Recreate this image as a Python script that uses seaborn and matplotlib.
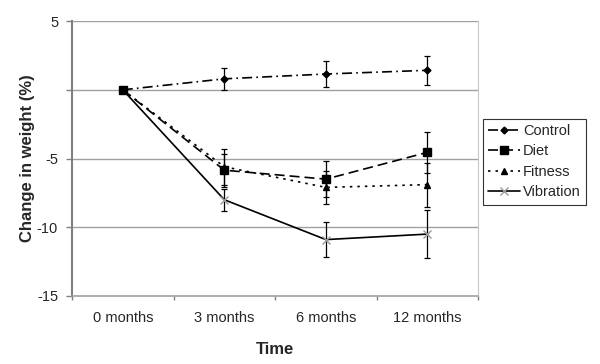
import matplotlib.pyplot as plt
import pandas as pd
import seaborn as sns

# weight change (%) per group
times = ["0 months", "3 months", "6 months", "12 months"]
control = [0.0, 0.8, 1.15, 1.42]
control_err = [0.0, 0.8, 0.93, 1.05]
diet = [0.0, -5.85, -6.5, -4.55]
diet_err = [0.0, 1.2, 1.3, 1.5]
fitness = [0.0, -5.6, -7.1, -6.9]
fitness_err = [0.0, 1.3, 1.2, 1.6]
vibration = [0.0, -8.0, -10.9, -10.5]
vibration_err = [0.0, 0.8, 1.3, 1.75]

STYLES = {
    "Control": dict(dashes=(6, 2.5, 1, 2.5), marker="D", markersize=3.5, mfc="black", mec="black", z=3),
    "Diet": dict(dashes=(6, 3), marker="s", markersize=5.5, mfc="black", mec="black", z=6),
    "Fitness": dict(dashes=(1.5, 3), marker="^", markersize=5, mfc="black", mec="black", z=4),
    "Vibration": dict(dashes=(), marker="x", markersize=6, mfc="#999999", mec="#999999", z=3.5),
}


def build_frame() -> pd.DataFrame:
    series = {
        "Control": (control, control_err),
        "Diet": (diet, diet_err),
        "Fitness": (fitness, fitness_err),
        "Vibration": (vibration, vibration_err),
    }
    rows = []
    for group, (vals, errs) in series.items():
        for i, (v, e) in enumerate(zip(vals, errs)):
            rows.append({"group": group, "pos": i, "time": times[i], "change": v, "err": e})
    return pd.DataFrame(rows)


def main() -> None:
    sns.set_theme(style="white")
    plt.rcParams["font.family"] = ["Liberation Sans", "DejaVu Sans"]

    df = build_frame()
    fig = plt.figure(figsize=(6, 3.64), dpi=100)
    ax = fig.add_axes([0.12, 0.187, 0.677, 0.755])

    for y in [-10, -5, 0, 5]:
        ax.axhline(y, color="#a0a0a0", lw=1.0, zorder=0)

    for group, rows in df.groupby("group", sort=False):
        st = STYLES[group]
        ax.errorbar(rows["pos"], rows["change"], yerr=rows["err"], fmt="none",
                    ecolor="black", elinewidth=0.9, capsize=2.5, capthick=0.9, zorder=2)
        sns.lineplot(
            data=rows, x="pos", y="change", ax=ax, color="black", lw=1.2,
            dashes=st["dashes"] if st["dashes"] else None,
            marker=st["marker"], markersize=st["markersize"],
            markerfacecolor=st["mfc"], markeredgecolor=st["mec"], markeredgewidth=1,
            label=group, zorder=st["z"],
        )
        if not st["dashes"]:
            ax.lines[-1].set_linestyle("-")

    ax.set_xlim(-0.5, 3.5)
    ax.set_ylim(-15, 5)
    ax.set_yticks([-15, -10, -5, 0, 5])
    ax.set_yticklabels(["-15", "-10", "-5", "", "5"], fontsize=10.5)
    ax.set_xticks(range(4))
    ax.set_xticklabels(times, fontsize=10.5)
    ax.set_xticks([-0.5, 0.5, 1.5, 2.5, 3.5], minor=True)
    ax.tick_params(axis="x", which="major", length=0, pad=11)
    ax.tick_params(axis="x", which="minor", direction="out", length=3, color="#808080", width=1, bottom=True)
    ax.tick_params(axis="y", direction="out", length=4, color="#808080", width=1, left=True, pad=6)

    ax.spines["top"].set_visible(False)
    ax.spines["right"].set_color("#c8c8c8")
    ax.spines["right"].set_linewidth(0.8)
    ax.spines["left"].set_color("#808080")
    ax.spines["left"].set_linewidth(1.5)
    ax.spines["bottom"].set_color("#a0a0a0")
    ax.spines["bottom"].set_linewidth(1.2)

    ax.set_xlabel("Time", fontsize=12, fontweight="bold", labelpad=12)
    ax.set_ylabel("Change in weight (%)", fontsize=12, fontweight="bold", labelpad=1)

    leg = ax.legend(loc="upper left", bbox_to_anchor=(1.012, 0.645), frameon=True, fancybox=False,
                    fontsize=10.5, handlelength=2.2, handletextpad=0.2, borderpad=0.35,
                    labelspacing=0.45, borderaxespad=0)
    leg.get_frame().set_edgecolor("black")
    leg.get_frame().set_linewidth(0.8)

    fig.savefig("out.png", dpi=100)
    plt.close(fig)


if __name__ == "__main__":
    main()
